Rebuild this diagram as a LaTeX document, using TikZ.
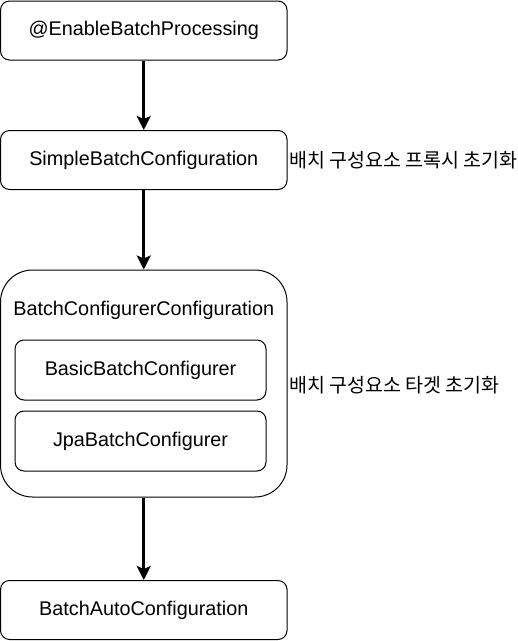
\documentclass[tikz,border=0pt]{standalone}
\usepackage{fontspec}
\setmainfont{Liberation Sans}
\newfontfamily\krfont{Noto Sans CJK KR}
\usetikzlibrary{arrows.meta}

\tikzset{
  box/.style={draw, line width=1pt, rounded corners=9pt, inner sep=0pt,
    minimum width=286.5pt, minimum height=59pt, font=\fontsize{19.8}{24}\selectfont},
  innerbox/.style={box, minimum width=251pt, minimum height=60pt},
  flow/.style={-{Stealth[length=14pt,width=14pt,inset=3pt]}, line width=2.6pt},
  note/.style={anchor=west, inner sep=0pt, font=\krfont\fontsize{19.5}{24}\selectfont}
}

\begin{document}
\begin{tikzpicture}[x=1pt,y=-1pt]
\useasboundingbox (0,0) rectangle (518,641);

% main chain
\node[box] (enable) at (143.75,30.5) {@EnableBatchProcessing};
\node[box] (simple) at (143.75,160) {SimpleBatchConfiguration};
\node[box, minimum height=227pt, rounded corners=32pt] (configurer) at (143.75,383.5) {};
\node[box] (auto) at (143.75,610) {BatchAutoConfiguration};

% inside the configurer box
\node[inner sep=0pt, font=\fontsize{19.8}{24}\selectfont] (configurerTitle) at (143.75,310) {BatchConfigurerConfiguration};
\node[innerbox] (basic) at (140.5,370) {BasicBatchConfigurer};
\node[innerbox] (jpa) at (140.5,441) {JpaBatchConfigurer};

% notes
\node[note] (proxyNote) at (289,160) {배치 구성요소 프록시 초기화};
\node[note] (targetNote) at (289,385) {배치 구성요소 타겟 초기화};

\draw[flow] (enable) -- (simple);
\draw[flow] (simple) -- (configurer);
\draw[flow] (configurer) -- (auto);
\end{tikzpicture}
\end{document}
